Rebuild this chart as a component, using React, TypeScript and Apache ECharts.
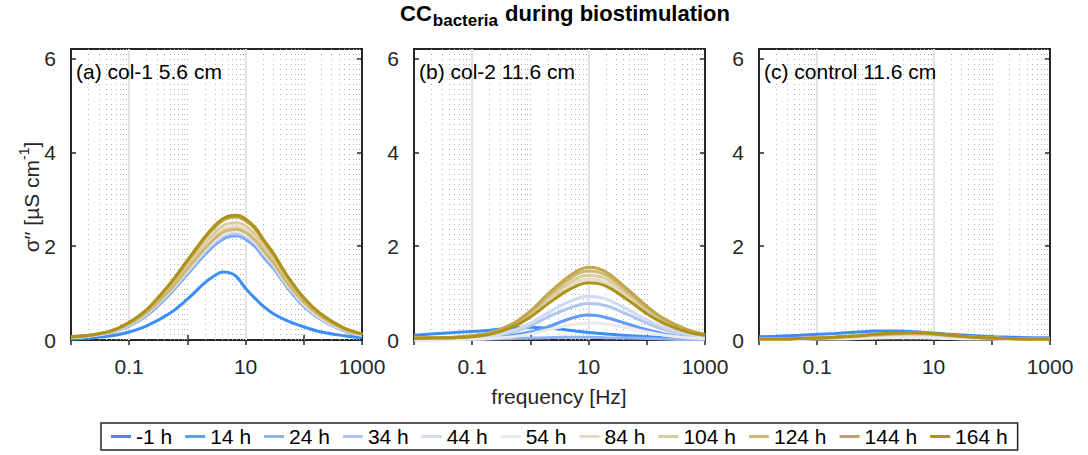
import React, { useEffect, useRef } from "react";
import * as echarts from "echarts";

// frequencies [Hz] at which curves were read (panel a is sampled more finely around its peak)
const FREQ_A = [0.01, 0.02, 0.05, 0.1, 0.2, 0.5, 1, 2, 3, 4, 5, 7, 10, 15, 20, 30, 50, 100, 200, 500, 1000];
const FREQ = [0.01, 0.02, 0.05, 0.1, 0.2, 0.5, 1, 2, 4, 7, 10, 20, 50, 100, 200, 500, 1000];

const NAMES = ["-1 h", "14 h", "24 h", "34 h", "44 h", "54 h", "84 h", "104 h", "124 h", "144 h", "164 h"];
const COLORS = ["#3a8ef7", "#629df5", "#8fb2f3", "#b0c6f2", "#d0dbf2", "#ebebeb", "#e6dcc6", "#dccb9c", "#cfb874", "#c0a64c", "#ad921c"];

// (a) col-1 5.6 cm  (values on FREQ_A)
const PANEL_A = [
  [0.02, 0.04, 0.09, 0.17, 0.3, 0.57, 0.87, 1.22, 1.38, 1.45, 1.44, 1.35, 1.1, 0.87, 0.72, 0.56, 0.42, 0.28, 0.17, 0.09, 0.05],
  [0.05, 0.08, 0.16, 0.3, 0.52, 0.98, 1.4, 1.82, 2.03, 2.14, 2.2, 2.22, 2.15, 1.98, 1.78, 1.53, 1.15, 0.72, 0.43, 0.19, 0.09],
  [0.05, 0.08, 0.16, 0.31, 0.53, 1.0, 1.42, 1.85, 2.06, 2.17, 2.23, 2.25, 2.18, 2.01, 1.81, 1.56, 1.17, 0.74, 0.44, 0.2, 0.1],
  [0.05, 0.08, 0.17, 0.32, 0.55, 1.02, 1.45, 1.88, 2.09, 2.2, 2.26, 2.28, 2.21, 2.04, 1.84, 1.58, 1.19, 0.75, 0.45, 0.2, 0.1],
  [0.05, 0.09, 0.17, 0.32, 0.56, 1.03, 1.47, 1.9, 2.11, 2.22, 2.28, 2.3, 2.23, 2.06, 1.86, 1.6, 1.2, 0.76, 0.46, 0.21, 0.1],
  [0.06, 0.09, 0.17, 0.33, 0.56, 1.05, 1.49, 1.93, 2.14, 2.25, 2.31, 2.33, 2.26, 2.09, 1.88, 1.62, 1.22, 0.78, 0.47, 0.22, 0.11],
  [0.06, 0.09, 0.18, 0.34, 0.59, 1.09, 1.55, 2.0, 2.22, 2.35, 2.4, 2.42, 2.35, 2.17, 1.96, 1.69, 1.27, 0.82, 0.5, 0.23, 0.12],
  [0.06, 0.09, 0.19, 0.36, 0.61, 1.13, 1.6, 2.07, 2.3, 2.43, 2.48, 2.5, 2.43, 2.24, 2.02, 1.74, 1.32, 0.85, 0.52, 0.24, 0.12],
  [0.06, 0.09, 0.18, 0.34, 0.58, 1.06, 1.51, 1.95, 2.17, 2.29, 2.34, 2.36, 2.29, 2.11, 1.91, 1.64, 1.24, 0.8, 0.49, 0.22, 0.12],
  [0.07, 0.1, 0.2, 0.37, 0.64, 1.18, 1.67, 2.17, 2.41, 2.54, 2.6, 2.62, 2.54, 2.35, 2.12, 1.82, 1.38, 0.89, 0.54, 0.25, 0.13],
  [0.07, 0.1, 0.2, 0.38, 0.65, 1.2, 1.7, 2.2, 2.45, 2.58, 2.64, 2.66, 2.58, 2.38, 2.15, 1.85, 1.4, 0.9, 0.55, 0.25, 0.13],
];

// (b) col-2 11.6 cm  (values on FREQ)
const PANEL_B = [
  [0.1, 0.13, 0.16, 0.18, 0.21, 0.26, 0.27, 0.25, 0.22, 0.18, 0.16, 0.13, 0.09, 0.07, 0.05, 0.03, 0.02],
  [0.01, 0.01, 0.02, 0.03, 0.05, 0.1, 0.17, 0.28, 0.42, 0.51, 0.53, 0.48, 0.33, 0.22, 0.13, 0.06, 0.03],
  [0.0, 0.0, 0.01, 0.01, 0.02, 0.03, 0.04, 0.05, 0.06, 0.06, 0.06, 0.05, 0.04, 0.03, 0.02, 0.01, 0.01],
  [0.02, 0.02, 0.03, 0.04, 0.07, 0.17, 0.3, 0.49, 0.65, 0.75, 0.78, 0.73, 0.53, 0.36, 0.22, 0.11, 0.06],
  [0.02, 0.02, 0.03, 0.05, 0.08, 0.2, 0.36, 0.58, 0.78, 0.9, 0.93, 0.87, 0.63, 0.43, 0.27, 0.13, 0.07],
  [0.01, 0.01, 0.01, 0.02, 0.03, 0.07, 0.13, 0.22, 0.3, 0.35, 0.36, 0.34, 0.25, 0.17, 0.1, 0.05, 0.03],
  [0.03, 0.04, 0.05, 0.08, 0.13, 0.3, 0.52, 0.82, 1.09, 1.26, 1.3, 1.22, 0.88, 0.6, 0.38, 0.18, 0.1],
  [0.03, 0.04, 0.05, 0.08, 0.14, 0.32, 0.55, 0.87, 1.16, 1.34, 1.38, 1.3, 0.94, 0.63, 0.4, 0.19, 0.11],
  [0.04, 0.05, 0.06, 0.09, 0.15, 0.34, 0.59, 0.93, 1.24, 1.43, 1.47, 1.38, 1.0, 0.68, 0.43, 0.21, 0.12],
  [0.04, 0.05, 0.06, 0.09, 0.15, 0.35, 0.62, 0.98, 1.3, 1.5, 1.55, 1.45, 1.05, 0.72, 0.45, 0.22, 0.12],
  [0.03, 0.04, 0.05, 0.07, 0.12, 0.28, 0.49, 0.77, 1.03, 1.18, 1.22, 1.15, 0.83, 0.56, 0.35, 0.17, 0.1],
];

// (c) control 11.6 cm  (values on FREQ)
const PANEL_C = [
  [0.07, 0.08, 0.1, 0.12, 0.14, 0.17, 0.19, 0.19, 0.18, 0.16, 0.15, 0.12, 0.09, 0.07, 0.06, 0.05, 0.05],
  [0.03, 0.03, 0.04, 0.05, 0.06, 0.08, 0.1, 0.11, 0.12, 0.11, 0.1, 0.08, 0.05, 0.04, 0.03, 0.02, 0.02],
  [0.02, 0.02, 0.03, 0.04, 0.05, 0.07, 0.08, 0.09, 0.1, 0.09, 0.09, 0.07, 0.05, 0.03, 0.02, 0.02, 0.01],
  [0.02, 0.02, 0.03, 0.04, 0.05, 0.06, 0.08, 0.09, 0.09, 0.09, 0.08, 0.06, 0.04, 0.03, 0.02, 0.02, 0.01],
  [0.01, 0.02, 0.02, 0.03, 0.04, 0.05, 0.06, 0.07, 0.08, 0.07, 0.07, 0.05, 0.04, 0.03, 0.02, 0.01, 0.01],
  [0.01, 0.01, 0.01, 0.02, 0.02, 0.03, 0.04, 0.05, 0.05, 0.05, 0.04, 0.03, 0.02, 0.02, 0.01, 0.01, 0.01],
  [0.02, 0.02, 0.03, 0.04, 0.05, 0.07, 0.09, 0.11, 0.12, 0.12, 0.11, 0.08, 0.05, 0.03, 0.02, 0.02, 0.01],
  [0.02, 0.02, 0.03, 0.04, 0.05, 0.08, 0.1, 0.12, 0.13, 0.13, 0.12, 0.09, 0.06, 0.04, 0.03, 0.02, 0.02],
  [0.02, 0.02, 0.03, 0.04, 0.06, 0.08, 0.11, 0.13, 0.14, 0.14, 0.13, 0.09, 0.06, 0.04, 0.03, 0.02, 0.02],
  [0.02, 0.02, 0.03, 0.04, 0.06, 0.09, 0.12, 0.14, 0.15, 0.15, 0.13, 0.1, 0.06, 0.04, 0.03, 0.02, 0.02],
  [0.02, 0.02, 0.03, 0.04, 0.06, 0.09, 0.12, 0.15, 0.16, 0.15, 0.14, 0.1, 0.06, 0.04, 0.03, 0.02, 0.02],
];

const PANELS = [PANEL_A, PANEL_B, PANEL_C];
const PANEL_FREQS = [FREQ_A, FREQ, FREQ];
const PANEL_TITLES = ["(a) col-1 5.6 cm", "(b) col-2 11.6 cm", "(c) control 11.6 cm"];
const X_TICKS = [0.1, 10, 1000];
const Y_TICKS = [0, 2, 4, 6];
const X_MAJOR_GRID = [0.1, 10];

const FONT = "'Liberation Sans', Arial, Helvetica, sans-serif";
const TXT = "#262626";
const GRID_LEFTS = [71, 414, 759];
const GRID_TOP = 49;
const GRID_W = 291;
const GRID_H = 291;

function minorGrid(): number[] {
  const out: number[] = [];
  for (let d = -2; d <= 2; d++) {
    for (let k = 1; k <= 9; k++) {
      const v = k * Math.pow(10, d);
      if (X_MAJOR_GRID.some((m) => Math.abs(Math.log10(m) - Math.log10(v)) < 1e-6)) continue;
      if (k === 1 && d === -2) continue;
      out.push(v);
    }
  }
  return out;
}

export default function App() {
  const ref = useRef<HTMLDivElement>(null);
  useEffect(() => {
    if (!ref.current) return;
    const chart = echarts.init(ref.current, undefined, { renderer: "svg" });
    const xLabel = (v: number) => {
      const t = X_TICKS.find((t) => Math.abs(Math.log10(t) - Math.log10(v)) < 1e-6);
      return t === undefined ? "" : String(t);
    };
    const yLabel = (v: number) => (Y_TICKS.some((t) => Math.abs(t - v) < 1e-6) ? String(v) : "");
    const grids: any[] = [];
    const xAxes: any[] = [];
    const yAxes: any[] = [];
    const series: any[] = [];
    const tick = { show: true, inside: true, length: 5, lineStyle: { color: TXT, width: 1.5 } };
    const minor = minorGrid();
    for (let p = 0; p < 3; p++) {
      grids.push({
        left: GRID_LEFTS[p], top: GRID_TOP, width: GRID_W, height: GRID_H,
        show: true, borderColor: TXT, borderWidth: 2, backgroundColor: "#fff",
      });
    }
    for (let p = 0; p < 3; p++) {
      xAxes.push({
        type: "log", logBase: 10, gridIndex: p, min: 0.01, max: 1000, position: "bottom",
        axisLine: { show: false }, axisTick: tick, splitLine: { show: false },
        axisLabel: { formatter: xLabel, fontSize: 21, color: TXT, fontFamily: FONT, margin: 16 },
      });
      yAxes.push({
        type: "value", gridIndex: p, min: 0, max: 6.2, interval: 2, position: "left",
        axisLine: { show: false }, axisTick: tick, splitLine: { show: false },
        axisLabel: { formatter: yLabel, fontSize: 21, color: TXT, fontFamily: FONT, margin: 15, showMaxLabel: false },
      });
    }
    for (let p = 0; p < 3; p++) {
      xAxes.push({
        type: "log", logBase: 10, gridIndex: p, min: 0.01, max: 1000, position: "top",
        axisLine: { show: false }, axisTick: tick, splitLine: { show: false }, axisLabel: { show: false },
      });
      yAxes.push({
        type: "value", gridIndex: p, min: 0, max: 6.2, interval: 2, position: "right",
        axisLine: { show: false }, axisTick: tick, splitLine: { show: false }, axisLabel: { show: false },
      });
    }
    for (let p = 0; p < 3; p++) {
      series.push({
        type: "line", name: "grid" + p, xAxisIndex: p, yAxisIndex: p, data: [], silent: true, z: 1,
        markLine: {
          z: 1, silent: true, symbol: ["none", "none"], label: { show: false }, animation: false,
          data: [
            ...minor.map((v) => ({ xAxis: v, lineStyle: { color: "#b4b4b4", width: 1, type: [1, 4] } })),
            ...X_MAJOR_GRID.map((v) => ({ xAxis: v, lineStyle: { color: "#e3e3e3", width: 2, type: "solid" } })),
          ],
        },
      });
    }
    for (let p = 0; p < 3; p++) {
      const fr = PANEL_FREQS[p];
      PANELS[p].forEach((vals, s) => {
        series.push({
          type: "line", name: NAMES[s], xAxisIndex: p, yAxisIndex: p,
          data: fr.map((f, i) => [f, vals[i]]),
          showSymbol: false, smooth: 0.35, silent: true, z: 6,
          lineStyle: { width: 3, color: COLORS[s] }, itemStyle: { color: COLORS[s] },
        });
      });
    }
    const graphic: any[] = [
      {
        type: "text", x: 565, y: 2,
        style: {
          text: "{a|CC}{b|bacteria}{a| during biostimulation}", align: "center", verticalAlign: "top",
          rich: {
            a: { fontSize: 22, fontWeight: "bold", fontFamily: FONT, fill: "#000", lineHeight: 22 },
            b: { fontSize: 17, fontWeight: "bold", fontFamily: FONT, fill: "#000", lineHeight: 17, padding: [14, 1, 0, 1] },
          },
        },
      },
      {
        type: "text", x: 31, y: 197, rotation: Math.PI / 2,
        style: {
          text: "{a|σ′′ [µS cm}{s|-1}{a|]}", align: "center", verticalAlign: "middle",
          rich: {
            a: { fontSize: 21, fontFamily: FONT, fill: TXT, lineHeight: 24 },
            s: { fontSize: 14, fontFamily: FONT, fill: TXT, lineHeight: 14, padding: [0, 0, 14, 0] },
          },
        },
      },
      {
        type: "text", x: 559, y: 396,
        style: { text: "frequency [Hz]", align: "center", verticalAlign: "middle", fontSize: 21, fontFamily: FONT, fill: TXT },
      },
      ...PANEL_TITLES.map((t, p) => ({
        type: "text", x: GRID_LEFTS[p] + 5, y: 71, z: 10,
        style: { text: t, align: "left", verticalAlign: "middle", fontSize: 21, fontFamily: FONT, fill: "#000" },
      })),
    ];
    chart.setOption({
      animation: false,
      backgroundColor: "#fff",
      grid: grids,
      xAxis: xAxes,
      yAxis: yAxes,
      series,
      graphic,
      legend: {
        left: 101, top: 423, orient: "horizontal", itemWidth: 20, itemHeight: 3, itemGap: 13,
        padding: [3, 10], borderColor: TXT, borderWidth: 1.5, selectedMode: false,
        textStyle: { fontSize: 21, color: "#000", fontFamily: FONT },
        data: NAMES.map((n) => ({ name: n, icon: "rect" })),
      },
    });
    return () => chart.dispose();
  }, []);
  return <div ref={ref} style={{ position: "absolute", left: 0, top: 0, width: 1088, height: 455 }} />;
}
